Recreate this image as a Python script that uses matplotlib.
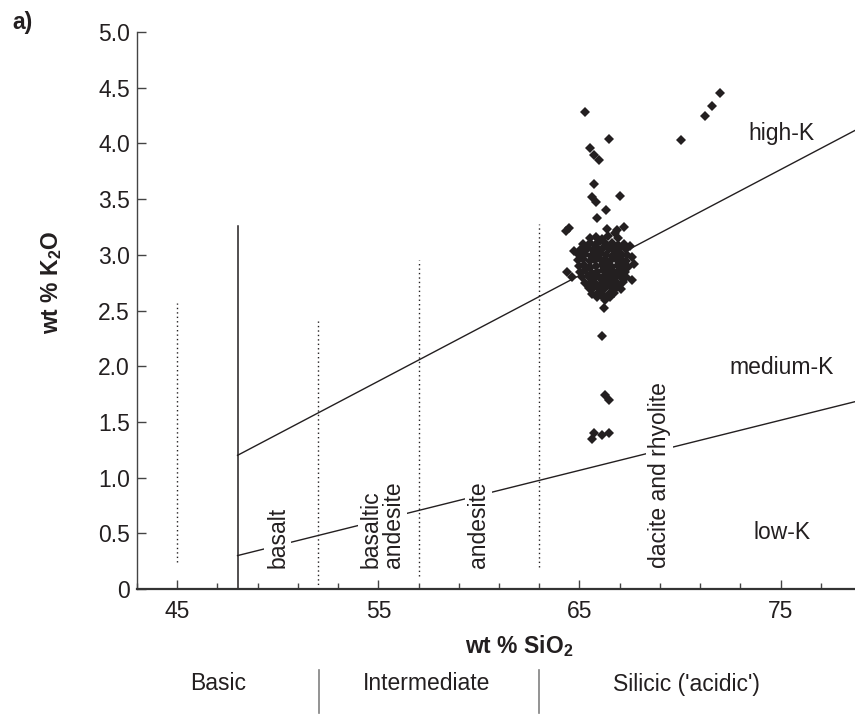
import matplotlib
matplotlib.use("Agg")
import matplotlib.pyplot as plt
from matplotlib.transforms import blended_transform_factory
from matplotlib.ticker import FixedLocator, FuncFormatter

plt.rcParams['font.family'] = ['Liberation Sans', 'DejaVu Sans']

# ---------------- data ----------------
# outlying / scattered samples
sio2_out = [72.0, 71.6, 71.25, 70.05, 65.26, 66.45, 65.5, 65.71, 65.96, 65.74,
            67.0, 65.62, 65.82, 66.32, 65.87, 66.37, 66.78, 67.19, 66.86,
            64.47, 64.31, 64.72, 64.39, 64.63, 67.52, 67.6, 67.69, 67.6,
            66.2, 66.29, 66.12, 66.29, 66.45, 65.71, 65.62, 66.12, 66.45]
k2o_out = [4.45, 4.34, 4.25, 4.03, 4.28, 4.04, 3.96, 3.90, 3.85, 3.64,
           3.53, 3.52, 3.47, 3.40, 3.33, 3.23, 3.20, 3.25, 3.22,
           3.24, 3.21, 3.03, 2.85, 2.80, 3.08, 2.98, 2.92, 2.77,
           2.52, 2.59, 2.27, 1.74, 1.70, 1.40, 1.35, 1.38, 1.40]

# dense core of the cluster
sio2_core = [65.5, 65.8, 66.1, 66.4, 66.9,
             65.2, 65.5, 65.75, 66.0, 66.3, 66.6, 66.9, 67.2,
             65.1, 65.4, 65.65, 65.9, 66.2, 66.45, 66.7, 67.0, 67.3,
             65.0, 65.3, 65.55, 65.8, 66.05, 66.3, 66.6, 66.85, 67.1, 67.35,
             64.95, 65.2, 65.5, 65.75, 66.0, 66.25, 66.5, 66.8, 67.05, 67.3,
             65.0, 65.25, 65.5, 65.8, 66.1, 66.35, 66.6, 66.9, 67.15, 67.4,
             65.05, 65.3, 65.6, 65.85, 66.15, 66.4, 66.7, 66.95, 67.25,
             65.15, 65.4, 65.7, 65.95, 66.2, 66.5, 66.75, 67.0, 67.3,
             65.3, 65.55, 65.8, 66.1, 66.35, 66.6, 66.9, 67.15,
             65.45, 65.7, 66.0, 66.25, 66.55, 66.8, 67.05,
             65.6, 65.9, 66.15, 66.45, 66.7,
             65.85, 66.2, 66.5]
k2o_core = [3.15, 3.16, 3.14, 3.17, 3.15,
            3.10, 3.11, 3.09, 3.12, 3.10, 3.11, 3.09, 3.10,
            3.05, 3.06, 3.04, 3.05, 3.07, 3.05, 3.04, 3.06, 3.05,
            3.00, 3.01, 2.99, 3.00, 3.02, 3.00, 2.99, 3.01, 3.00, 3.00,
            2.95, 2.96, 2.94, 2.95, 2.96, 2.95, 2.94, 2.96, 2.95, 2.94,
            2.90, 2.91, 2.89, 2.90, 2.91, 2.90, 2.89, 2.91, 2.90, 2.89,
            2.85, 2.86, 2.84, 2.85, 2.86, 2.85, 2.84, 2.86, 2.85,
            2.80, 2.81, 2.79, 2.80, 2.81, 2.80, 2.79, 2.81, 2.80,
            2.75, 2.76, 2.74, 2.75, 2.76, 2.75, 2.74, 2.76,
            2.70, 2.71, 2.69, 2.70, 2.71, 2.70, 2.69,
            2.65, 2.66, 2.64, 2.65, 2.66,
            2.62, 2.61, 2.62]

# classification boundaries (wt% SiO2, wt% K2O)
highk_x = [48, 68, 80]
highk_y = [1.2, 3.1, 4.24]
lowk_x = [48, 68, 80]
lowk_y = [0.3, 1.2, 1.74]

# rock-type divisions: (SiO2, bottom K2O, top K2O)
div_solid = (48, 0.0, 3.26)
div_dotted = [(45, 0.245, 2.565), (52, 0.0, 2.41), (57, 0.12, 2.95), (63, 0.2, 3.28)]

rock_names = ["basalt", "basaltic\nandesite", "andesite", "dacite and rhyolite"]
rock_x = [50.0, 55.2, 60.0, 69.0]

series_names = ["high-K", "medium-K", "low-K"]
series_y = [4.03, 1.93, 0.45]

groups = ["Basic", "Intermediate", "Silicic ('acidic')"]
groups_x = [47.05, 57.4, 70.3]
groups_sep = [52.07, 63.0]

yticks = [0, 0.5, 1.0, 1.5, 2.0, 2.5, 3.0, 3.5, 4.0, 4.5, 5.0]
xticks_major = [45, 55, 65, 75]

# ---------------- figure ----------------
W, H = 855, 714
fig = plt.figure(figsize=(W / 100, H / 100), dpi=100)
ax = fig.add_axes([137 / W, (H - 589) / H, (W - 137) / W, (589 - 32) / H])
ax.set_xlim(43, 78.7)
ax.set_ylim(0, 5.0)

ink = '#231f20'
fs = 16.5

# boundary lines
ax.plot(highk_x, highk_y, color=ink, lw=1.0, zorder=2)
ax.plot(lowk_x, lowk_y, color=ink, lw=1.0, zorder=2)
ax.plot([div_solid[0], div_solid[0]], [div_solid[1], div_solid[2]], color=ink, lw=1.1, zorder=2)
for xv, y0, y1 in div_dotted:
    ax.plot([xv, xv], [y0, y1], color=ink, lw=1.0, linestyle=(0, (1, 2.2)), zorder=2)

# rock labels (with white backing that interrupts lines)
for name, xv in zip(rock_names, rock_x):
    ax.text(xv, 0.19, name, rotation=90, ha='center', va='bottom', multialignment='left',
            fontsize=fs, color=ink, linespacing=0.95, zorder=3,
            bbox=dict(facecolor='white', edgecolor='none', pad=1.5))

for name, yv in zip(series_names, series_y):
    ax.text(75.05, yv, name, ha='center', va='baseline', fontsize=fs, color=ink, zorder=3)

# data points
ax.plot(sio2_core, k2o_core, linestyle='none', marker='D', ms=4.6, mew=0, color=ink, zorder=4)
ax.plot(sio2_out, k2o_out, linestyle='none', marker='D', ms=4.6, mew=0, color=ink, zorder=4)

# axes styling
for s in ['top', 'right']:
    ax.spines[s].set_visible(False)
ax.spines['left'].set_color('#444444')
ax.spines['left'].set_linewidth(1.0)
ax.spines['bottom'].set_color('#333333')
ax.spines['bottom'].set_linewidth(1.6)

ax.xaxis.set_major_locator(FixedLocator(xticks_major))
ax.xaxis.set_minor_locator(FixedLocator([v for v in range(43, 79, 2) if v not in xticks_major]))
ax.yaxis.set_major_locator(FixedLocator(yticks))
ax.yaxis.set_major_formatter(FuncFormatter(lambda v, p: "0" if v == 0 else f"{v:.1f}"))
ax.tick_params(axis='x', which='major', direction='in', length=6.5, width=1.0, color='#444444',
               pad=8, labelsize=fs, labelcolor=ink)
ax.tick_params(axis='x', which='minor', direction='in', length=4.3, width=1.0, color='#444444')
ax.tick_params(axis='y', which='major', direction='in', length=6.5, width=1.0, color='#444444',
               pad=5, labelsize=fs, labelcolor=ink)

# axis titles
fig.text(52 / W, 1 - 282 / H, r"wt % K$_\mathregular{2}$O", rotation=90, ha='center', va='center',
         fontsize=fs, fontweight='bold', color=ink)
trans = blended_transform_factory(ax.transData, fig.transFigure)
ax.text(62.0, 1 - 646 / H, r"wt % SiO$_\mathregular{2}$", transform=trans, ha='center', va='center',
        fontsize=fs, fontweight='bold', color=ink, clip_on=False)
fig.text(22 / W, 1 - 22 / H, "a)", ha='center', va='center', fontsize=fs, fontweight='bold', color=ink)

# composition groups below axis
for name, xv in zip(groups, groups_x):
    ax.text(xv, 1 - 684 / H, name, transform=trans, ha='center', va='center', fontsize=fs,
            color=ink, clip_on=False)
for xv in groups_sep:
    ax.plot([xv, xv], [1 - 670 / H, 1 - 713 / H], transform=trans, color='#808080', lw=1.2,
            clip_on=False)

fig.savefig("out.png", dpi=100)
